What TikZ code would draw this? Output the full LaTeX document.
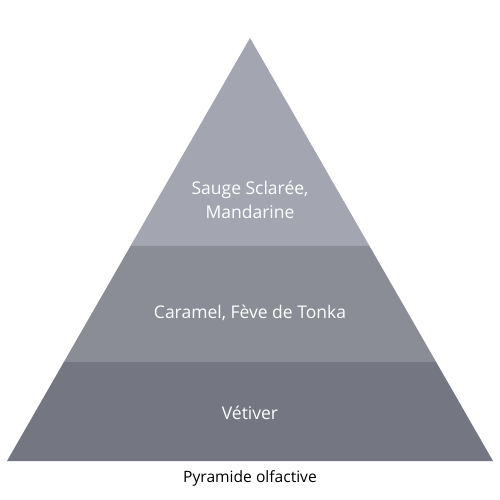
\documentclass[tikz,border=0pt]{standalone}
\usepackage{fontspec}
\setmainfont{Open Sans}
\usetikzlibrary{calc}
\definecolor{topc}{RGB}{163,166,177}
\definecolor{midc}{RGB}{138,140,150}
\definecolor{botc}{RGB}{116,119,130}
\tikzset{bandtext/.style={text=white,font=\fontsize{17.5}{24.5}\selectfont,align=center},
capt/.style={text=black,font=\fontsize{15.6}{18}\selectfont}}
\begin{document}
\begin{tikzpicture}[x=1pt,y=-1pt]
\useasboundingbox[fill=white] (0,0) rectangle (500,500);
\coordinate (A) at (250,38);
\coordinate (L) at (7,461);
\coordinate (R) at (493,461);
\coordinate (L1) at ($(A)!0.4917!(L)$);
\coordinate (R1) at ($(A)!0.4917!(R)$);
\coordinate (L2) at ($(A)!0.7660!(L)$);
\coordinate (R2) at ($(A)!0.7660!(R)$);
\fill[topc] (A) -- (L1) -- (R1) -- cycle;
\fill[midc] (L1) -- (L2) -- (R2) -- (R1) -- cycle;
\fill[botc] (L2) -- (L) -- (R) -- (R2) -- cycle;
\node[bandtext] (t1) at (250,200) {Sauge Sclarée,\\Mandarine};
\node[bandtext] (t2) at (250,313) {Caramel, Fève de Tonka};
\node[bandtext] (t3) at (250,413) {Vétiver};
\node[capt] (cap) at (250,478) {Pyramide olfactive};
\end{tikzpicture}
\end{document}
